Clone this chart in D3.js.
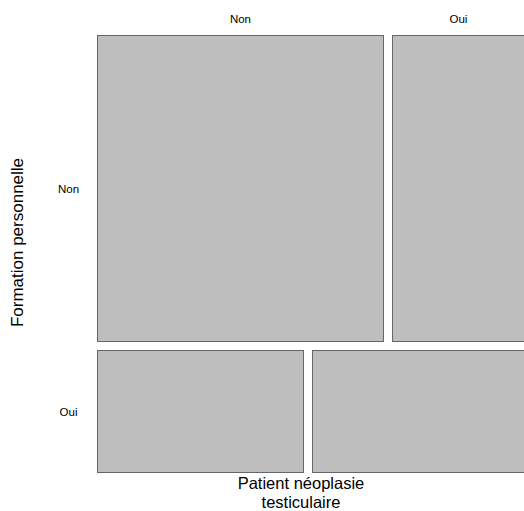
<!DOCTYPE html>
<html><head><meta charset="utf-8">
<script src="https://cdn.jsdelivr.net/npm/d3@7"></script>
<style>body{margin:0;background:#fff}svg{display:block}text{font-family:"Liberation Sans",Arial,sans-serif;fill:#000}</style>
</head><body>
<script>
const rowCategories = ["Non", "Oui"];       // Formation personnelle
const colCategories = ["Non", "Oui"];       // Patient néoplasie testiculaire
const countsRowNon = [119, 55];
const countsRowOui = [34, 35];
const counts = [countsRowNon, countsRowOui];
const xTitle = ["Patient néoplasie", "testiculaire"];
const yTitle = "Formation personnelle";

const W = 524, H = 511;
const pLeft = 97.5, pRight = 524.5, pTop = 35.5, pBottom = 472.5, gap = 9;
const svg = d3.select("body").append("svg").attr("width", W).attr("height", H);

const rowTotals = counts.map(r => d3.sum(r));
const total = d3.sum(rowTotals);
const availH = (pBottom - pTop) - gap * (rowCategories.length - 1);
const yScale = d3.scaleLinear().domain([0, total]).range([0, availH]);
const availW = (pRight - pLeft) - gap * (colCategories.length - 1);

let yCum = 0;
rowCategories.forEach((rc, i) => {
  const y0 = pTop + yScale(yCum) + i * gap;
  const h = yScale(rowTotals[i]);
  const xScale = d3.scaleLinear().domain([0, rowTotals[i]]).range([0, availW]);
  let xCum = 0;
  colCategories.forEach((cc, j) => {
    const x0 = pLeft + xScale(xCum) + j * gap;
    const w = xScale(counts[i][j]);
    svg.append("rect")
      .attr("x", Math.round(x0 - 0.5) + 0.5).attr("y", Math.round(y0 - 0.5) + 0.5)
      .attr("width", Math.round(w)).attr("height", Math.round(h))
      .attr("fill", "#bebebe").attr("stroke", "#666").attr("stroke-width", 1);
    if (i === 0) {
      svg.append("text").attr("x", x0 + w / 2).attr("y", 23)
        .attr("text-anchor", "middle").attr("font-size", 11.5).text(cc);
    }
    xCum += counts[i][j];
  });
  svg.append("text").attr("x", 68.5).attr("y", y0 + h / 2 + 4.5)
    .attr("text-anchor", "middle").attr("font-size", 11.5).text(rc);
  yCum += rowTotals[i];
});

svg.append("text").attr("x", 301).attr("y", 489)
  .attr("text-anchor", "middle").attr("font-size", 16.5).text(xTitle[0]);
svg.append("text").attr("x", 301).attr("y", 507.5)
  .attr("text-anchor", "middle").attr("font-size", 16.5).text(xTitle[1]);
svg.append("text").attr("transform", "translate(23,242.5) rotate(-90)")
  .attr("text-anchor", "middle").attr("font-size", 17).text(yTitle);
</script>
</body></html>
